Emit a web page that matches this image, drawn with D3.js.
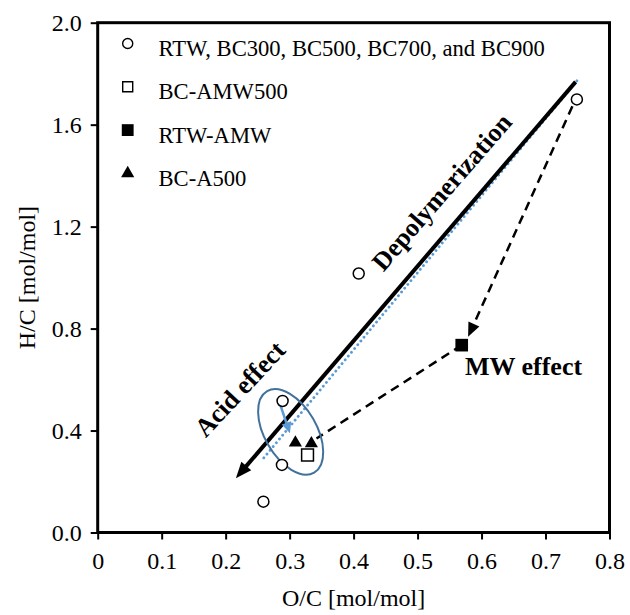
<!DOCTYPE html>
<html>
<head>
<meta charset="utf-8">
<script src="https://cdn.jsdelivr.net/npm/d3@7"></script>
<style>
  html, body { margin: 0; padding: 0; background: #fff; }
  svg { display: block; font-family: "Liberation Serif", "Times New Roman", serif; }
</style>
</head>
<body>
<svg id="chart" width="630" height="615"></svg>
<script>
// ---- data ----
const xTicks = [0, 0.1, 0.2, 0.3, 0.4, 0.5, 0.6, 0.7, 0.8];
const xTickLabels = ["0", "0.1", "0.2", "0.3", "0.4", "0.5", "0.6", "0.7", "0.8"];
const yTicks = [0, 0.4, 0.8, 1.2, 1.6, 2.0];
const yTickLabels = ["0.0", "0.4", "0.8", "1.2", "1.6", "2.0"];

const seriesNames = ["RTW, BC300, BC500, BC700, and BC900", "BC-AMW500", "RTW-AMW", "BC-A500"];
const rawOC = [0.749, 0.408, 0.289, 0.288, 0.259];
const rawHC = [1.699, 1.016, 0.516, 0.265, 0.121];
const amw500OC = [0.328];
const amw500HC = [0.304];
const rtwAmwOC = [0.569];
const rtwAmwHC = [0.735];
const a500OC = [0.309, 0.334];
const a500HC = [0.352, 0.349];

// annotation paths (O/C, H/C)
const depolyArrow = [[0.747, 1.768], [0.216, 0.213]];
const blueDotted = [[0.749, 1.772], [0.259, 0.291]];
const blueArrow = [[0.282, 0.526], [0.3005, 0.389]];
const mwArrow = [[0.742, 1.672], [0.579, 0.768]];
const mwToAcid = [[0.569, 0.735], [0.342, 0.369]];
const ellipseCenter = [0.3016, 0.395];
const labels = [
  { text: "Depolymerization", at: [0.538, 1.335], angle: -49, anchor: "middle" },
  { text: "Acid effect", at: [0.2225, 0.562], angle: -47, anchor: "middle" },
  { text: "MW effect", at: [0.574, 0.618], angle: 0, anchor: "start" }
];

// ---- layout ----
const svg = d3.select("#chart");
const L = 97.7, R = 609.5, T = 22.7, B = 532.5;
const x = d3.scaleLinear().domain([0, 0.8]).range([L, R]);
const y = d3.scaleLinear().domain([0, 2]).range([B, T]);

// axes
const xAxis = d3.axisBottom(x).tickValues(xTicks).tickFormat((d, i) => xTickLabels[i]).tickSize(7).tickPadding(12);
const yAxis = d3.axisLeft(y).tickValues(yTicks).tickFormat((d, i) => yTickLabels[i]).tickSize(7).tickPadding(9);

const gx = svg.append("g").attr("transform", `translate(0,${B})`).call(xAxis);
const gy = svg.append("g").attr("transform", `translate(${L},0)`).call(yAxis);
[gx, gy].forEach(g => {
  g.select(".domain").remove();
  g.selectAll(".tick line").attr("stroke", "#000").attr("stroke-width", 2);
  g.selectAll(".tick text").attr("fill", "#000").style("font-size", "24px")
    .style("font-family", '"Liberation Serif", "Times New Roman", serif');
});
gx.selectAll(".tick text").attr("dy", "0.71em");

// plot frame
svg.append("rect").attr("x", L).attr("y", T).attr("width", R - L).attr("height", B - T)
  .attr("fill", "none").attr("stroke", "#000").attr("stroke-width", 3);

// axis titles
svg.append("text").attr("x", (L + R) / 2).attr("y", 606).attr("text-anchor", "middle")
  .style("font-size", "24px").text("O/C [mol/mol]");
svg.append("text").attr("transform", `translate(35,${(T + B) / 2}) rotate(-90)`).attr("text-anchor", "middle")
  .style("font-size", "24px").text("H/C [mol/mol]");

// helper: line with arrowhead
function arrow(pts, opts) {
  const [p0, p1] = pts.map(p => [x(p[0]), y(p[1])]);
  const dx = p1[0] - p0[0], dy = p1[1] - p0[1];
  const len = Math.hypot(dx, dy);
  const ux = dx / len, uy = dy / len;
  const hl = opts.headLen, hw = opts.headWidth;
  const bx = p1[0] - ux * hl, by = p1[1] - uy * hl;
  const ex = p1[0] - ux * hl * 0.85, ey = p1[1] - uy * hl * 0.85;
  svg.append("line").attr("x1", p0[0]).attr("y1", p0[1]).attr("x2", ex).attr("y2", ey)
    .attr("stroke", opts.color).attr("stroke-width", opts.width)
    .attr("stroke-dasharray", opts.dash || null);
  svg.append("path")
    .attr("d", `M${p1[0]},${p1[1]}L${bx - uy * hw / 2},${by + ux * hw / 2}L${bx + uy * hw / 2},${by - ux * hw / 2}Z`)
    .attr("fill", opts.color);
}
function plainLine(pts, opts) {
  svg.append("path").attr("d", d3.line().x(d => x(d[0])).y(d => y(d[1]))(pts))
    .attr("fill", "none").attr("stroke", opts.color).attr("stroke-width", opts.width)
    .attr("stroke-dasharray", opts.dash || null).attr("stroke-linecap", opts.cap || "butt");
}

// blue dotted line
plainLine(blueDotted, { color: "#5b9bd5", width: 2.8, dash: "0.1 4.8", cap: "round" });
// depolymerization arrow
arrow(depolyArrow, { color: "#000", width: 4, headLen: 16, headWidth: 13 });
// blue small arrow
arrow(blueArrow, { color: "#5b9bd5", width: 2.5, headLen: 11, headWidth: 10 });
// MW dashed arrow
arrow(mwArrow, { color: "#000", width: 2.5, headLen: 14, headWidth: 12, dash: "9 6" });
plainLine(mwToAcid, { color: "#000", width: 2.5, dash: "9 6" });

// ellipse
svg.append("ellipse")
  .attr("transform", `translate(${x(ellipseCenter[0])},${y(ellipseCenter[1])}) rotate(60)`)
  .attr("rx", 47).attr("ry", 26)
  .attr("fill", "none").attr("stroke", "#41719c").attr("stroke-width", 2);

// markers
const sym = (type, size) => d3.symbol().type(type).size(size)();
function drawPoints(xs, ys, type, size, fill) {
  svg.append("g").selectAll("path").data(xs).join("path")
    .attr("transform", (d, i) => `translate(${x(d)},${y(ys[i])})`)
    .attr("d", sym(type, size))
    .attr("fill", fill).attr("stroke", "#000").attr("stroke-width", fill === "#000" ? 0 : 1.5);
}
drawPoints(rawOC, rawHC, d3.symbolCircle, 95, "#fff");
drawPoints(amw500OC, amw500HC, d3.symbolSquare, 140, "#fff");
drawPoints(rtwAmwOC, rtwAmwHC, d3.symbolSquare, 160, "#000");
drawPoints(a500OC, a500HC, d3.symbolTriangle, 75, "#000");

// annotation text
labels.forEach(l => {
  svg.append("text")
    .attr("transform", `translate(${x(l.at[0])},${y(l.at[1])}) rotate(${l.angle})`)
    .attr("text-anchor", l.anchor)
    .attr("dominant-baseline", l.angle ? "central" : "auto")
    .style("font-size", "26px").style("font-weight", "bold").text(l.text);
});

// legend
const legendSyms = [
  { type: d3.symbolCircle, size: 80, fill: "#fff" },
  { type: d3.symbolSquare, size: 100, fill: "#fff" },
  { type: d3.symbolSquare, size: 140, fill: "#000" },
  { type: d3.symbolTriangle, size: 75, fill: "#000" }
];
const lg = svg.append("g");
seriesNames.forEach((name, i) => {
  const cy = 43.5 + i * 43.3;
  const s = legendSyms[i];
  lg.append("path").attr("transform", `translate(127.7,${cy})`).attr("d", sym(s.type, s.size))
    .attr("fill", s.fill).attr("stroke", "#000").attr("stroke-width", s.fill === "#000" ? 0 : 1.4);
  lg.append("text").attr("x", 158.5).attr("y", cy + 5).attr("dominant-baseline", "central")
    .style("font-size", "22.6px").text(name);
});
</script>
</body>
</html>
